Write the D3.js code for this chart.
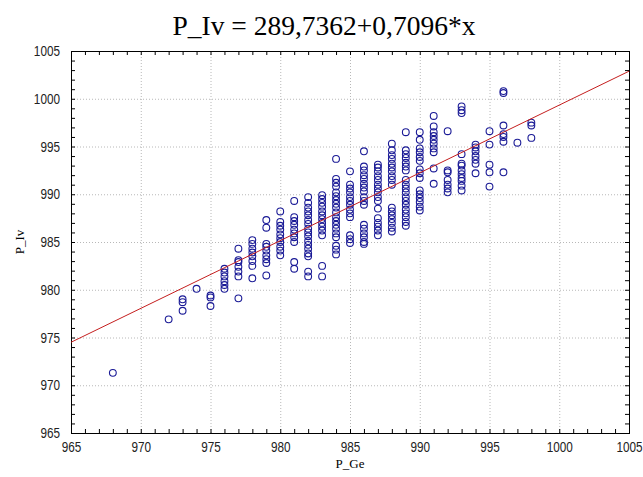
<!DOCTYPE html>
<html>
<head>
<meta charset="utf-8">
<script src="https://cdn.jsdelivr.net/npm/d3@7"></script>
<style>
  body { margin: 0; background: #fff; }
  .tick-label text { font-family: "Liberation Sans", Arial, sans-serif; font-size: 14px; fill: #222; }
  .grid line { stroke: #b8b8b8; stroke-dasharray: 1,2; }
  .minor line { stroke: #000; }
  .domain { display: none; }
</style>
</head>
<body>
<div id="chart"></div>
<script>
// x values (P_Ge) and the P_Iv readings at each of them
var geValues = [968, 972, 973, 974, 975, 976, 977, 978, 979, 980, 981, 982, 983, 984, 985,
                986, 987, 988, 989, 990, 991, 992, 993, 994, 995, 996, 997, 998];
var ivValues = [
    [971.3],
    [976.9],
    [979.0, 978.7, 977.8],
    [980.1],
    [979.4, 979.2, 978.3],
    [982.2, 981.8, 981.4, 980.9, 980.5, 980.1],
    [984.3, 983.1, 982.9, 982.4, 981.9, 981.4, 979.1],
    [985.2, 984.8, 984.3, 983.9, 983.5, 983.0, 982.5, 981.2],
    [987.3, 986.5, 984.8, 984.5, 984.1, 983.6, 983.2, 982.8, 981.5],
    [988.2, 987.1, 986.7, 986.3, 985.8, 985.4, 985.0, 984.5, 984.1, 983.6],
    [989.3, 987.6, 987.2, 986.8, 986.3, 985.9, 985.5, 985.0, 982.9, 982.2],
    [989.7, 989.1, 988.6, 988.2, 987.8, 987.3, 986.9, 986.4, 986.0, 985.6, 985.1, 984.7, 984.3, 983.8, 983.5, 981.9, 981.4],
    [989.9, 989.5, 989.1, 988.7, 988.2, 987.8, 987.4, 987.0, 986.6, 986.2, 985.7, 982.5, 981.4],
    [993.7, 991.6, 991.2, 990.8, 990.2, 989.8, 989.4, 989.0, 988.6, 988.1, 987.6, 987.2, 986.8, 986.4, 985.9, 985.5, 984.6, 984.2, 983.7],
    [992.4, 991.0, 990.6, 990.2, 989.7, 989.3, 988.9, 988.4, 988.0, 987.6, 985.7, 985.3, 984.9],
    [994.5, 992.9, 992.5, 992.0, 991.6, 991.1, 990.7, 990.3, 989.7, 989.3, 988.9, 986.8, 986.4, 985.9, 985.5, 985.0, 984.8],
    [993.1, 992.8, 992.4, 991.9, 991.5, 991.0, 990.6, 990.2, 989.7, 989.3, 988.5, 987.5, 987.0, 986.6, 986.2, 985.7],
    [995.3, 994.6, 994.1, 993.7, 993.2, 992.8, 992.4, 991.9, 991.5, 991.0, 988.6, 988.2, 987.8, 987.4, 987.0, 986.5, 986.1],
    [996.5, 994.6, 994.2, 993.8, 993.3, 992.9, 992.5, 991.5, 991.0, 990.6, 990.2, 989.7, 989.3, 988.9, 988.4, 988.0, 987.6, 987.1, 986.7],
    [996.5, 995.7, 994.8, 994.4, 993.9, 993.5, 992.6, 992.2, 991.7, 990.4, 990.0, 989.6, 989.2, 988.7, 988.3],
    [998.2, 997.1, 996.5, 996.1, 995.7, 995.3, 994.8, 994.4, 992.7, 991.1],
    [996.6, 992.5, 992.3, 991.5, 991.0, 990.6, 990.2],
    [999.2, 998.8, 998.5, 994.2, 993.2, 993.0, 992.5, 992.1, 991.7, 991.4, 990.9, 990.4],
    [995.2, 994.9, 994.5, 994.0, 993.6, 993.2, 992.2],
    [996.6, 995.2, 993.1, 992.3, 990.8],
    [1000.8, 1000.6, 997.2, 996.3, 996.0, 995.5, 992.3],
    [995.4],
    [997.5, 997.2, 995.9]
];
var intercept = 289.7362, slope = 0.7096;
var xTicks = [965, 970, 975, 980, 985, 990, 995, 1000, 1005];
var yTicks = [965, 970, 975, 980, 985, 990, 995, 1000, 1005];
var titleText = "P_Iv = 289,7362+0,7096*x";

var points = [];
geValues.forEach(function(g, i) {
    ivValues[i].forEach(function(v) { points.push({x: g, y: v}); });
});

var W = 643, H = 477;
var margin = {top: 51, right: 14, bottom: 44, left: 71},
    width = W - margin.left - margin.right,
    height = H - margin.top - margin.bottom;

var svg = d3.select("#chart").append("svg")
    .attr("width", W).attr("height", H);

var g = svg.append("g")
    .attr("transform", "translate(" + margin.left + "," + margin.top + ")");

var x = d3.scaleLinear().domain([965, 1005]).range([0, width]);
var y = d3.scaleLinear().domain([965, 1005]).range([height, 0]);

// grid
g.append("g").attr("class", "grid")
    .selectAll("line").data(xTicks.slice(1, -1)).enter().append("line")
    .attr("x1", function(d) { return x(d) + 0.5; }).attr("x2", function(d) { return x(d) + 0.5; })
    .attr("y1", 0).attr("y2", height);
g.append("g").attr("class", "grid")
    .selectAll("line").data(yTicks.slice(1, -1)).enter().append("line")
    .attr("y1", function(d) { return y(d) + 0.5; }).attr("y2", function(d) { return y(d) + 0.5; })
    .attr("x1", 0).attr("x2", width);

// minor ticks pointing inward on all four sides
var minor = d3.range(965, 1006, 1);
g.append("g").attr("class", "minor").attr("transform", "translate(0," + height + ")")
    .call(d3.axisBottom(x).tickValues(minor).tickSize(-4).tickFormat(""));
g.append("g").attr("class", "minor")
    .call(d3.axisTop(x).tickValues(minor).tickSize(-4).tickFormat(""));
g.append("g").attr("class", "minor")
    .call(d3.axisLeft(y).tickValues(minor).tickSize(-4).tickFormat(""));
g.append("g").attr("class", "minor").attr("transform", "translate(" + width + ",0)")
    .call(d3.axisRight(y).tickValues(minor).tickSize(-4).tickFormat(""));

// labels (narrowed like the original condensed face)
var xl = g.append("g").attr("class", "tick-label").attr("transform", "translate(0," + height + ")")
    .call(d3.axisBottom(x).tickValues(xTicks).tickSize(0).tickPadding(8).tickFormat(d3.format("d")));
xl.selectAll("text").attr("transform", "scale(0.84,1.05)");
var yl = g.append("g").attr("class", "tick-label")
    .call(d3.axisLeft(y).tickValues(yTicks).tickSize(0).tickPadding(11).tickFormat(d3.format("d")));
yl.selectAll("text").attr("transform", "translate(-11,0) scale(0.84,1.05) translate(11,0)");
g.selectAll(".tick-label .tick line").remove();

// frame
g.append("rect")
    .attr("x", 0.5).attr("y", 0.5)
    .attr("width", width).attr("height", height)
    .attr("fill", "none").attr("stroke", "#000");

// clip for regression line
svg.append("clipPath").attr("id", "clip")
    .append("rect").attr("width", width).attr("height", height);

// points
g.selectAll(".pt").data(points).enter().append("circle")
    .attr("class", "pt")
    .attr("cx", function(d) { return x(d.x); })
    .attr("cy", function(d) { return y(d.y); })
    .attr("r", 3.4)
    .attr("fill", "none")
    .attr("stroke", "#1a1a96")
    .attr("stroke-width", 1.1);

// fitted line
var lineX = x.domain();
g.append("line")
    .attr("clip-path", "url(#clip)")
    .attr("x1", x(lineX[0])).attr("y1", y(intercept + slope * lineX[0]))
    .attr("x2", x(lineX[1])).attr("y2", y(intercept + slope * lineX[1]))
    .attr("stroke", "#c41e1e").attr("stroke-width", 1);

// title
svg.append("text")
    .attr("x", 324).attr("y", 35)
    .attr("text-anchor", "middle")
    .style("font-family", "'Liberation Serif', 'Times New Roman', serif")
    .style("font-size", "27.5px")
    .text(titleText);

// axis titles
svg.append("text")
    .attr("x", margin.left + width / 2).attr("y", 468)
    .attr("text-anchor", "middle")
    .style("font-family", "'Liberation Serif', serif")
    .style("font-size", "13px")
    .text("P_Ge");

svg.append("text")
    .attr("transform", "translate(24," + (margin.top + height / 2) + ") rotate(-90)")
    .attr("text-anchor", "middle")
    .style("font-family", "'Liberation Serif', serif")
    .style("font-size", "13px")
    .text("P_Iv");
</script>
</body>
</html>
